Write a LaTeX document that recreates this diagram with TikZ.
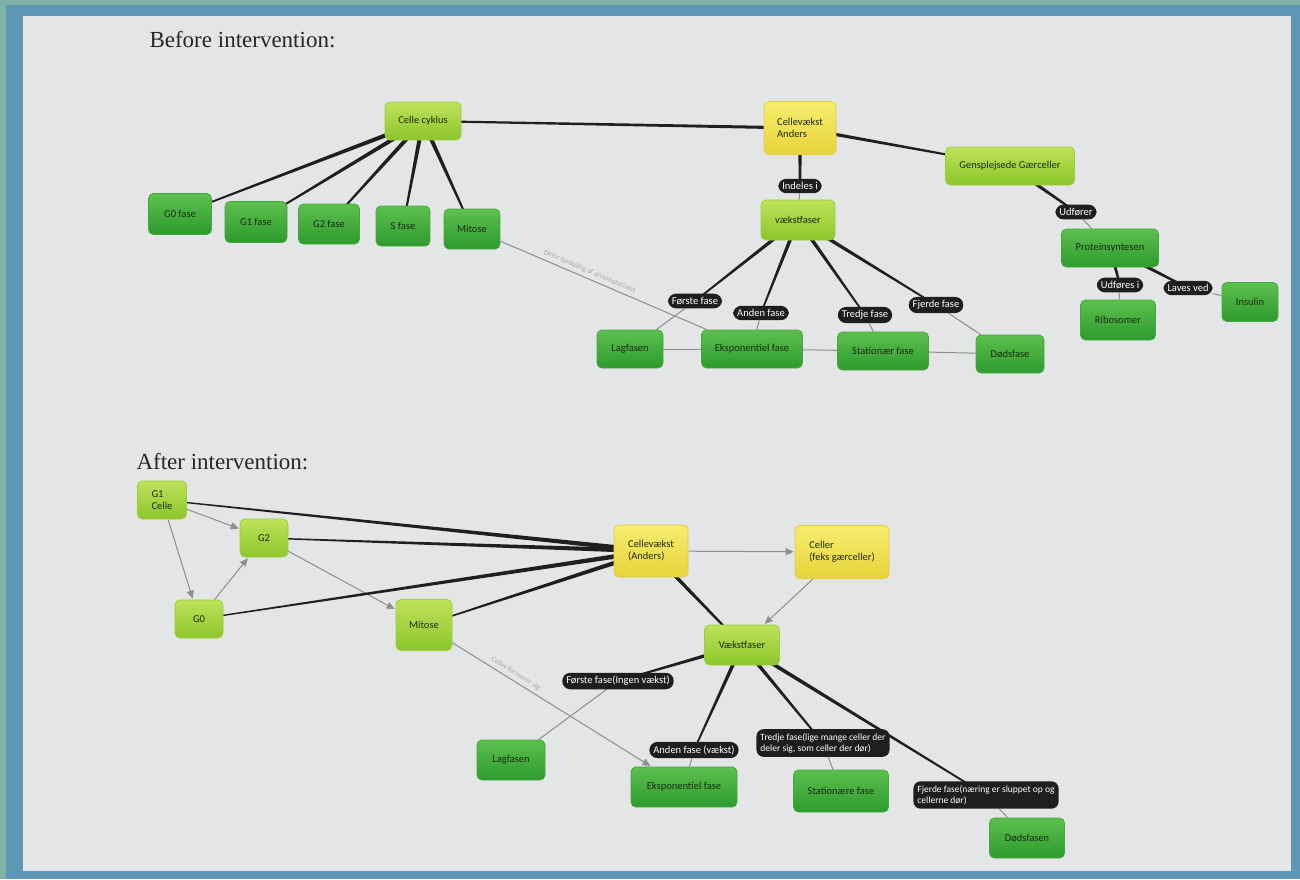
\documentclass[tikz,border=0pt]{standalone}
\usepackage{fontspec}
\setmainfont{Liberation Serif}
\newfontfamily\nodefont{Carlito}
\usetikzlibrary{calc,arrows.meta}
\pgfdeclarelayer{bg}
\pgfdeclarelayer{edges}
\pgfsetlayers{bg,edges,main}
\definecolor{frameteal}{HTML}{80B2A8}
\definecolor{frameblue}{HTML}{5E96B6}
\definecolor{page}{HTML}{E4E5E6}
\definecolor{lgtop}{HTML}{BEE25A}
\definecolor{lgbot}{HTML}{8CC62A}
\definecolor{lgdraw}{HTML}{9CCF3A}
\definecolor{dgtop}{HTML}{5CC04E}
\definecolor{dgbot}{HTML}{2E9A2E}
\definecolor{dgdraw}{HTML}{3FAA3A}
\definecolor{yltop}{HTML}{F6EC6E}
\definecolor{ylbot}{HTML}{E8D43A}
\definecolor{yldraw}{HTML}{E2CC40}
\definecolor{pillc}{HTML}{1E1E20}
\definecolor{edgeg}{HTML}{8E8E8E}
\definecolor{faint}{HTML}{ABABAB}
\definecolor{ink}{HTML}{1C2A14}
\newcommand\taper[4]{\fill[black!88] ($(#1)!#3!90:(#2)$) -- ($(#1)!#3!-90:(#2)$) -- ($(#2)!#4!90:(#1)$) -- ($(#2)!#4!-90:(#1)$) -- cycle;}
\tikzset{
 box/.style={rounded corners=5pt, align=center, inner sep=1pt, font=\nodefont\fontsize{10.5}{12}\selectfont, text=ink, line width=0.8pt},
 lg/.style={box, draw=lgdraw, top color=lgtop, bottom color=lgbot},
 dg/.style={box, draw=dgdraw, top color=dgtop, bottom color=dgbot},
 yl/.style={box, draw=yldraw, top color=yltop, bottom color=ylbot},
 pill/.style={fill=pillc, text=white, rounded corners=8pt, inner xsep=4pt, inner ysep=3.5pt, font=\nodefont\fontsize{10.5}{12}\selectfont, align=left},
 longpill/.style={pill, rounded corners=7pt, inner ysep=4pt, font=\nodefont\fontsize{9.5}{11}\selectfont},
 thinedge/.style={draw=edgeg, line width=1pt},
 arr/.style={draw=edgeg, line width=1pt, -{Triangle[length=8pt,width=7pt]}, shorten >=1pt},
 hd/.style={font=\fontsize{23}{26}\selectfont, anchor=west, text=black!85},
 faintlbl/.style={font=\nodefont\fontsize{7.5}{8.5}\selectfont, text=faint, sloped},
}
\begin{document}
\begin{tikzpicture}[x=1pt,y=-1pt]
\useasboundingbox (0,0) rectangle (1300,879);
\begin{pgfonlayer}{bg}
\fill[frameteal] (0,0) rectangle (1300,879);
\fill[frameblue] (6,5) rectangle (1300,879);
\fill[page] (23,16) rectangle (1291,871);
\end{pgfonlayer}
% headings
\node[hd] (h1) at (146,40) {Before intervention:};
\node[hd] (h2) at (133,462) {After intervention:};
% top map
\node[lg, minimum width=76pt, minimum height=38pt] (cc) at (423,121) {Celle cyklus};
\node[dg, minimum width=63pt, minimum height=41pt] (g0f) at (180,214) {G0 fase};
\node[dg, minimum width=62pt, minimum height=41pt] (g1f) at (256,222) {G1 fase};
\node[dg, minimum width=61pt, minimum height=40pt] (g2f) at (329,224) {G2 fase};
\node[dg, minimum width=54pt, minimum height=40pt] (sf) at (403,226) {S fase};
\node[dg, minimum width=56pt, minimum height=40pt] (mit) at (472,229) {Mitose};
\node[yl, minimum width=72pt, minimum height=53pt, align=left] (cva) at (800,128) {Cellevækst\\Anders};
\node[lg, minimum width=129pt, minimum height=38pt] (gen) at (1010,166) {Gensplejsede Gærceller};
\node[pill] (indl) at (800,186) {Indeles i};
\node[lg, minimum width=74pt, minimum height=40pt] (vf) at (798,220) {vækstfaser};
\node[pill] (udf) at (1076,212) {Udfører};
\node[dg, minimum width=97pt, minimum height=38pt] (prot) at (1110,248) {Proteinsyntesen};
\node[pill] (udfi) at (1120,285) {Udføres i};
\node[pill] (lav) at (1188,288) {Laves ved};
\node[dg, minimum width=75pt, minimum height=40pt] (ribo) at (1118,320) {Ribosomer};
\node[dg, minimum width=56pt, minimum height=39pt] (ins) at (1250,302) {Insulin};
\node[pill] (f1) at (695,301) {Første fase};
\node[pill] (f2) at (761,313) {Anden fase};
\node[pill] (f3) at (865,315) {Tredje fase};
\node[pill] (f4) at (936,305) {Fjerde fase};
\node[dg, minimum width=66pt, minimum height=38pt] (lag) at (630,349) {Lagfasen};
\node[dg, minimum width=101pt, minimum height=38pt] (eks) at (752,349) {Eksponentiel fase};
\node[dg, minimum width=91pt, minimum height=38pt] (sta) at (883,351) {Stationær fase};
\node[dg, minimum width=68pt, minimum height=38pt] (dod) at (1010,354) {Dødsfase};
% bottom map
\node[lg, minimum width=49pt, minimum height=38pt, align=left] (bg1) at (162,500) {G1\\Celle};
\node[lg, minimum width=48pt, minimum height=38pt] (bg2) at (264,538) {G2};
\node[lg, minimum width=48pt, minimum height=38pt] (bg0) at (199,619) {G0};
\node[lg, minimum width=56pt, minimum height=51pt] (bmit) at (424,625) {Mitose};
\node[yl, minimum width=74pt, minimum height=52pt, align=left] (bcv) at (651,551) {Cellevækst\\(Anders)};
\node[yl, minimum width=94pt, minimum height=53pt, align=left] (bcel) at (842,552) {Celler\\(feks gærceller)};
\node[lg, minimum width=75pt, minimum height=40pt] (bvf) at (742,645) {Vækstfaser};
\node[pill] (bf1) at (618,681) {Første fase(Ingen vækst)};
\node[pill] (bf2) at (694,750) {Anden fase (vækst)};
\node[longpill] (bf3) at (823,743) {Tredje fase(lige mange celler der\\deler sig, som celler der dør)};
\node[longpill] (bf4) at (986,795) {Fjerde fase(næring er sluppet op og\\cellerne dør)};
\node[dg, minimum width=68pt, minimum height=40pt] (blag) at (511,760) {Lagfasen};
\node[dg, minimum width=106pt, minimum height=40pt] (beks) at (684,787) {Eksponentiel fase};
\node[dg, minimum width=95pt, minimum height=42pt] (bsta) at (841,791) {Stationære fase};
\node[dg, minimum width=75pt, minimum height=40pt] (bdod) at (1027,838) {Dødsfasen};
\begin{pgfonlayer}{edges}
% top
\taper{cc}{g0f}{2.3pt}{0.7pt}
\taper{cc}{g1f}{2.3pt}{0.7pt}
\taper{cc}{g2f}{2.3pt}{0.7pt}
\taper{cc}{sf}{2.3pt}{0.7pt}
\taper{cc}{mit}{2.3pt}{0.7pt}
\taper{cva}{cc}{1.6pt}{1pt}
\taper{cva}{gen}{1.8pt}{0.7pt}
\taper{cva}{indl}{2pt}{1.2pt}
\draw[thinedge] (indl) -- (vf);
\taper{gen}{udf}{2pt}{1pt}
\draw[thinedge] (udf) -- (prot);
\taper{prot}{udfi}{2pt}{1pt}
\draw[thinedge] (udfi) -- (ribo);
\taper{prot}{lav}{2pt}{1pt}
\draw[thinedge] (lav) -- (ins);
\taper{vf}{f1}{2pt}{0.8pt}
\taper{vf}{f2}{2pt}{0.8pt}
\taper{vf}{f3}{2pt}{0.8pt}
\taper{vf}{f4}{2pt}{0.8pt}
\draw[thinedge] (f1) -- (lag);
\draw[thinedge] (f2) -- (eks);
\draw[thinedge] (f3) -- (sta);
\draw[thinedge] (f4) -- (dod);
\draw[thinedge] (lag) -- (eks);
\draw[thinedge] (eks) -- (sta);
\draw[thinedge] (sta) -- (dod);
\draw[thinedge] (mit) -- node[faintlbl, above, pos=0.42] {Deler fordeling af arvematerialet} (eks);
% bottom
\draw[arr] (bg1) -- (bg2);
\draw[arr] (bg1) -- (bg0);
\draw[arr] (bg0) -- (bg2);
\draw[arr] (bg2) -- (bmit);
\draw[arr] (bcv) -- (bcel);
\draw[arr] (bcel) -- (bvf);
\draw[arr] (bmit) -- node[faintlbl, above, pos=0.3] {Celler formerer sig} (beks);
\taper{bcv}{bg1}{2.4pt}{0.6pt}
\taper{bcv}{bg2}{2.4pt}{0.6pt}
\taper{bcv}{bg0}{2.4pt}{0.6pt}
\taper{bcv}{bmit}{2.4pt}{0.6pt}
\taper{bcv}{bvf}{2.2pt}{0.8pt}
\taper{bvf}{bf1}{2pt}{0.8pt}
\taper{bvf}{bf2}{2pt}{0.8pt}
\taper{bvf}{bf3}{2pt}{0.8pt}
\taper{bvf}{bf4}{2pt}{0.8pt}
\draw[thinedge] (bf1) -- (blag);
\draw[thinedge] (bf2) -- (beks);
\draw[thinedge] (bf3) -- (bsta);
\draw[thinedge] (bf4) -- (bdod);
\end{pgfonlayer}
\end{tikzpicture}
\end{document}
